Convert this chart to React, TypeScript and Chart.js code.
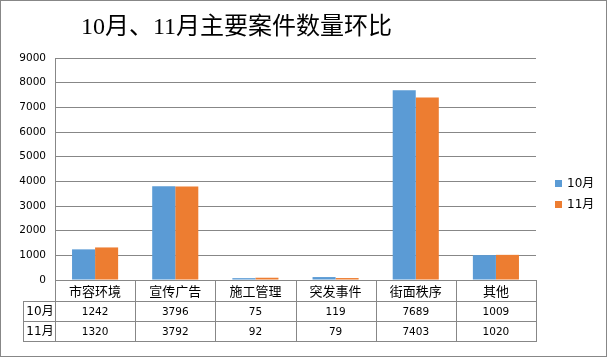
import React, { useEffect, useRef } from "react";
import { Chart, registerables } from "chart.js";

Chart.register(...registerables);

const titleText = "10月、11月主要案件数量环比";
const categories = ["市容环境", "宣传广告", "施工管理", "突发事件", "街面秩序", "其他"];
const seriesNames = ["10月", "11月"];
const octValues = [1242, 3796, 75, 119, 7689, 1009];
const novValues = [1320, 3792, 92, 79, 7403, 1020];
const seriesColors = ["#5B9BD5", "#ED7D31"];
const yMin = 0;
const yMax = 9000;
const yStep = 1000;

const LINE = "#878787";
const CJK = "'Noto Sans CJK SC', sans-serif";
const NUM = "'DejaVu Sans', 'Noto Sans CJK SC', sans-serif";

const decorPlugin = {
  id: "decor",
  afterDraw(chart: any) {
    const ctx = chart.ctx as CanvasRenderingContext2D;
    const ca = chart.chartArea;
    const n = categories.length;
    const left = Math.round(ca.left);
    const right = Math.round(ca.right);
    const top = Math.round(ca.bottom);
    const colW = (right - left) / n;
    const rowH = [21, 20, 20];
    const y1 = top + rowH[0];
    const y2 = y1 + rowH[1];
    const y3 = y2 + rowH[2];
    const labelLeft = 23;
    ctx.save();
    // table lines
    ctx.strokeStyle = LINE;
    ctx.lineWidth = 1;
    ctx.beginPath();
    for (const y of [y1, y2, y3]) {
      ctx.moveTo(labelLeft, y + 0.5);
      ctx.lineTo(right + 1, y + 0.5);
    }
    ctx.moveTo(labelLeft + 0.5, y1);
    ctx.lineTo(labelLeft + 0.5, y3 + 1);
    for (let i = 0; i <= n; i++) {
      const x = Math.round(left + i * colW) + 0.5;
      ctx.moveTo(x, top);
      ctx.lineTo(x, y3 + 1);
    }
    ctx.stroke();

    // header labels
    ctx.fillStyle = "#000";
    ctx.textAlign = "center";
    ctx.textBaseline = "middle";
    ctx.font = `13px ${CJK}`;
    const xs = chart.scales.x;
    categories.forEach((c, i) => {
      const cx = xs.getPixelForValue(i);
      ctx.fillText(c, cx, top + rowH[0] / 2 + 1);
    });
    // row labels
    ctx.font = `12px ${NUM}`;
    const rowsY = [y1 + rowH[1] / 2 + 1, y2 + rowH[2] / 2 + 1];
    seriesNames.forEach((s, r) => {
      ctx.fillText(s, (labelLeft + left) / 2 + 1, rowsY[r]);
    });
    // values
    ctx.font = `10.5px ${NUM}`;
    [octValues, novValues].forEach((vals, r) => {
      vals.forEach((v, i) => {
        ctx.fillText(String(v), xs.getPixelForValue(i), rowsY[r]);
      });
    });

    // legend
    ctx.textAlign = "left";
    ctx.font = `12px ${NUM}`;
    const legY = [184, 205];
    seriesNames.forEach((s, r) => {
      ctx.fillStyle = seriesColors[r];
      ctx.fillRect(555, legY[r] - 4, 7, 7);
      ctx.fillStyle = "#000";
      ctx.fillText(s, 567, legY[r]);
    });

    // title
    ctx.font = `24px 'Liberation Serif', 'Noto Sans CJK SC', serif`;
    ctx.fillText(titleText, 81, 28);

    // outer border
    ctx.strokeStyle = LINE;
    ctx.strokeRect(0.5, 0.5, 606, 356);
    ctx.restore();
  },
};

export default function App() {
  const ref = useRef<HTMLCanvasElement | null>(null);
  useEffect(() => {
    if (!ref.current) return;
    const chart = new Chart(ref.current, {
      type: "bar",
      data: {
        labels: categories,
        datasets: [
          {
            label: seriesNames[0],
            data: octValues,
            backgroundColor: seriesColors[0],
            borderWidth: 0,
            categoryPercentage: 0.575,
            barPercentage: 1,
          },
          {
            label: seriesNames[1],
            data: novValues,
            backgroundColor: seriesColors[1],
            borderWidth: 0,
            categoryPercentage: 0.575,
            barPercentage: 1,
          },
        ],
      },
      options: {
        responsive: false,
        animation: false,
        devicePixelRatio: 1,
        layout: { padding: { left: 5, right: 72, top: 58, bottom: 78 } },
        plugins: {
          legend: { display: false },
          title: { display: false },
          tooltip: { enabled: false },
        },
        scales: {
          x: { display: false },
          y: {
            min: yMin,
            max: yMax,
            ticks: {
              stepSize: yStep,
              color: "#000",
              padding: 9,
              font: { family: NUM, size: 10.5 },
              callback: (v: any) => String(v),
            },
            grid: { color: LINE, drawTicks: false, lineWidth: 1 },
            border: { color: LINE },
            afterFit: (s: any) => {
              s.width = 50;
            },
          },
        },
      },
      plugins: [decorPlugin],
    } as any);
    return () => chart.destroy();
  }, []);
  return (
    <div style={{ position: "fixed", left: 0, top: 0, width: 608, height: 358, background: "#fff" }}>
      <canvas ref={ref} width={608} height={358} style={{ display: "block" }} />
    </div>
  );
}
